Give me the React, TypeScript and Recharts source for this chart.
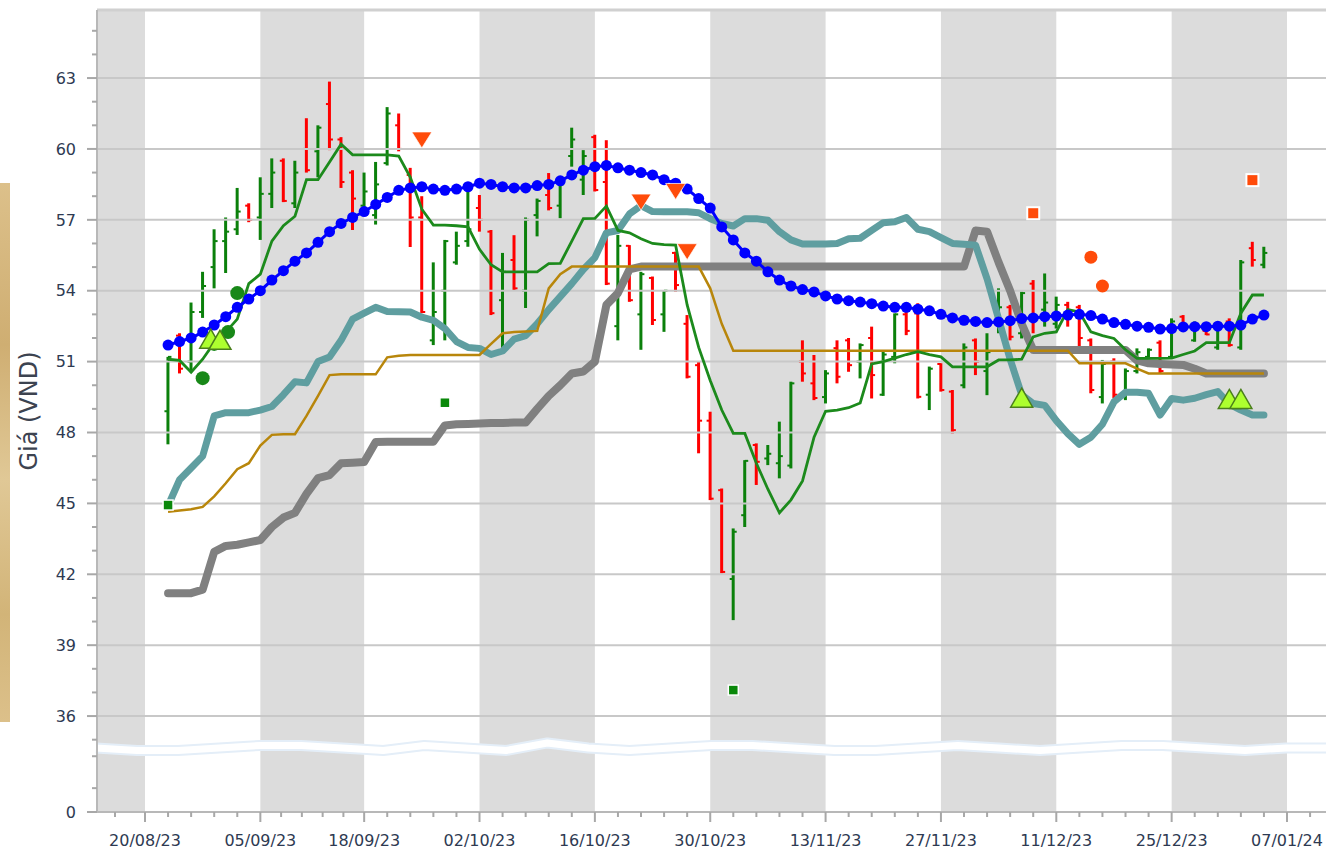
import React from 'react';
import {
  ComposedChart,
  XAxis,
  YAxis,
  Bar,
  Line,
  Scatter,
  ReferenceArea,
  ReferenceLine,
} from 'recharts';

// trading-day index of the first bar; 20/08/23 sits at index 0
const FIRST_DAY = 2;

const OPEN = [
  48.9, 52.1, 51.0, 53.1, 55.0, 56.1, 56.6, 57.6, 57.1, 58.1,
  59.5, 57.7, 60.0, 59.9, 61.9, 60.4, 59.0, 57.6, 57.2, 59.4,
  61.0, 58.9, 57.1, 51.9, 54.0, 55.2, 56.1, 57.5, 56.5, 53.6,
  55.3, 54.0, 57.2, 58.05, 57.6, 59.7, 58.7, 60.5, 58.6, 52.5,
  55.9, 53.0, 54.54, 53.0, 55.6, 52.6, 50.85, 48.5, 45.56, 41.8,
  44.5, 47.47, 46.9, 46.7, 46.6, 51.0, 50.08, 49.5, 51.57, 51.9,
  51.0, 52.0, 49.6, 51.2, 53.0, 53.04, 49.6, 50.9, 49.73, 50.0,
  51.9, 50.6, 52.6, 53.3, 52.2, 54.3, 53.2, 52.6, 53.4, 53.3,
  51.9, 49.5, 51.0, 49.5, 50.6, 51.2, 51.8, 51.2, 52.9, 51.9,
  52.3, 51.6, 52.7, 51.6, 55.8, 55.1,
];
const HIGH = [
  51.2, 52.2, 53.5, 54.8, 56.6, 57.1, 58.35, 57.7, 58.8, 59.6,
  59.6, 59.5, 61.3, 61.0, 62.85, 60.5, 59.1, 59.0, 59.45, 61.77,
  61.5, 59.2, 58.0, 55.2, 56.15, 56.5, 58.26, 58.05, 56.57, 55.6,
  56.35, 57.1, 57.9, 58.98, 58.6, 60.9, 59.95, 60.6, 60.37, 56.36,
  55.93, 54.8, 54.6, 54.03, 55.65, 52.97, 51.0, 48.88, 45.63, 43.94,
  46.83, 47.54, 47.47, 48.46, 50.15, 51.9, 51.28, 50.64, 51.9, 52.0,
  51.77, 52.48, 51.45, 53.04, 53.32, 53.47, 50.79, 50.93, 49.8, 51.77,
  51.98, 52.2, 54.1, 53.4, 53.96, 54.45, 54.73, 53.75, 53.53, 53.4,
  51.98, 51.07, 51.14, 50.71, 51.56, 51.56, 51.9, 52.83, 52.97, 52.7,
  52.33, 52.6, 52.83, 55.3, 56.07, 55.86,
];
const LOW = [
  47.5, 50.5, 50.55, 52.85, 54.1, 54.75, 56.36, 56.9, 56.15, 57.5,
  57.75, 57.5, 59.0, 58.8, 59.95, 58.35, 56.57, 57.4, 56.8, 59.3,
  59.9, 55.85, 53.05, 51.7, 51.9, 55.1, 55.86, 56.5, 52.97, 51.36,
  54.03, 53.27, 56.3, 57.4, 57.07, 59.25, 58.05, 58.2, 54.24, 51.9,
  53.53, 51.5, 52.55, 52.26, 53.96, 50.29, 47.12, 45.14, 42.04, 40.06,
  44.0, 45.78, 46.62, 46.06, 46.48, 50.15, 49.37, 49.23, 50.08, 50.57,
  50.29, 49.44, 49.55, 50.93, 52.12, 49.44, 48.95, 49.73, 47.96, 49.87,
  50.43, 49.58, 52.2, 51.9, 51.98, 52.2, 52.48, 52.4, 52.48, 51.6,
  49.66, 49.23, 49.45, 49.37, 50.5, 51.14, 50.5, 51.14, 52.33, 51.84,
  52.12, 51.5, 51.63, 51.5, 55.02, 54.95,
];
const CLOSE = [
  51.2, 50.7, 53.1, 54.2, 56.1, 56.5, 57.35, 57.0, 58.1, 59.0,
  57.8, 59.0, 59.1, 60.9, 60.4, 58.6, 57.9, 58.2, 58.5, 61.5,
  60.0, 57.1, 53.1, 53.1, 56.1, 55.9, 56.6, 57.0, 53.05, 54.8,
  54.1, 57.0, 57.8, 57.5, 58.5, 60.4, 59.7, 58.26, 54.3, 55.9,
  53.6, 54.7, 52.76, 54.0, 54.24, 50.36, 48.5, 45.2, 42.1, 43.8,
  46.8, 46.76, 47.1, 47.0, 50.08, 50.5, 49.46, 50.5, 50.36, 50.85,
  51.7, 50.43, 51.3, 53.0, 52.3, 49.51, 50.7, 49.8, 48.1, 51.6,
  51.0, 51.4, 53.3, 52.05, 53.9, 52.8, 53.5, 53.4, 52.8, 52.0,
  49.8, 50.9, 49.6, 50.6, 51.4, 51.5, 50.6, 52.7, 52.5, 52.5,
  52.15, 52.4, 51.7, 55.2, 55.3, 55.6,
];
// blue dotted moving average
const MA = [
  51.7, 51.85, 52.0, 52.25, 52.55, 52.9, 53.3, 53.65, 54.0, 54.45,
  54.85, 55.25, 55.6, 56.05, 56.5, 56.85, 57.1, 57.35, 57.65, 57.95,
  58.25, 58.35, 58.4, 58.3, 58.25, 58.3, 58.4, 58.55, 58.5, 58.4,
  58.35, 58.35, 58.45, 58.5, 58.65, 58.9, 59.1, 59.25, 59.3, 59.2,
  59.1, 59.0, 58.9, 58.7, 58.55, 58.3, 57.9, 57.5, 56.7, 56.15,
  55.6, 55.25, 54.8, 54.45, 54.2, 54.05, 53.95, 53.78, 53.65, 53.58,
  53.52, 53.45, 53.35, 53.3, 53.3, 53.22, 53.15, 53.0, 52.85, 52.75,
  52.7, 52.65, 52.68, 52.73, 52.82, 52.85, 52.9, 52.93, 52.97, 53.0,
  52.95, 52.8, 52.65, 52.58, 52.5, 52.45, 52.38, 52.4, 52.47, 52.48,
  52.48, 52.5, 52.5, 52.55, 52.8, 52.97,
];
// thin green line
const TENKAN = [
  51.1, 51.05, 50.55, 51.1, 51.8, 52.25, 52.8, 54.3, 54.7, 56.1,
  56.75, 57.15, 58.7, 58.7, 59.45, 60.2, 59.75, 59.75, 59.75, 59.75,
  59.7, 58.8, 57.45, 56.78, 56.78, 56.75, 56.7, 55.75, 55.1, 54.8,
  54.8, 54.8, 54.8, 55.15, 55.16, 56.1, 57.05, 57.06, 57.58, 56.55,
  56.45, 56.2, 56.0, 55.95, 55.93, 53.4, 51.6, 50.2, 48.95, 47.96,
  47.96, 46.7, 45.6, 44.6, 45.15, 45.95, 47.8, 48.9, 48.95, 49.05,
  49.25, 50.9, 51.0, 51.15, 51.3, 51.42, 51.3, 51.2, 50.78, 50.78,
  50.78, 50.78, 51.07, 51.07, 51.1, 52.05, 52.2, 52.26, 53.2, 53.1,
  52.26, 52.1, 51.98, 51.5, 51.14, 51.14, 51.14, 51.15, 51.3, 51.45,
  51.8, 51.8, 51.8, 53.05, 53.82, 53.82,
];
// thin gold line
const KIJUN = [
  44.65, 44.7, 44.75, 44.85, 45.3, 45.85, 46.45, 46.7, 47.45, 47.9,
  47.93, 47.93, 48.7, 49.55, 50.43, 50.46, 50.46, 50.46, 50.46, 51.18,
  51.25, 51.28, 51.28, 51.28, 51.28, 51.28, 51.28, 51.28, 51.75, 52.2,
  52.25, 52.27, 52.3, 54.1, 54.7, 55.02, 55.02, 55.02, 55.02, 55.02,
  55.02, 55.02, 55.02, 55.02, 55.02, 55.02, 55.02, 54.1, 52.6, 51.46,
  51.46, 51.46, 51.46, 51.46, 51.46, 51.46, 51.46, 51.46, 51.46, 51.46,
  51.46, 51.46, 51.46, 51.46, 51.46, 51.46, 51.46, 51.46, 51.46, 51.46,
  51.46, 51.46, 51.46, 51.46, 51.46, 51.46, 51.46, 51.46, 51.46, 50.93,
  50.93, 50.93, 50.93, 50.93, 50.7, 50.5, 50.5, 50.5, 50.5, 50.5,
  50.5, 50.5, 50.5, 50.5, 50.5, 50.5,
];
// thick teal line
const SPAN_A = [
  44.9, 46.0, 46.5, 47.0, 48.7, 48.84, 48.84, 48.84, 48.95, 49.1,
  49.6, 50.15, 50.1, 51.0, 51.2, 51.9, 52.8, 53.05, 53.3, 53.12,
  53.11, 53.1, 52.88, 52.75, 52.4, 51.85, 51.6, 51.56, 51.3, 51.45,
  51.95, 52.1, 52.6, 53.2, 53.75, 54.3, 54.9, 55.4, 56.45, 56.55,
  57.25, 57.6, 57.35, 57.34, 57.34, 57.34, 57.3, 57.05, 56.85, 56.74,
  57.05, 57.05, 56.98, 56.5, 56.15, 55.98, 55.98, 55.98, 56.0, 56.2,
  56.22, 56.55, 56.88, 56.92, 57.1, 56.6, 56.5, 56.25, 56.0, 55.97,
  55.93, 54.5, 52.8, 51.1, 49.6, 49.23, 49.15, 48.5, 47.95, 47.5,
  47.8, 48.35, 49.3, 49.7, 49.7, 49.66, 48.74, 49.44, 49.37, 49.45,
  49.6, 49.73, 49.2, 48.95, 48.74, 48.74,
];
// thick grey line
const SPAN_B = [
  41.2, 41.2, 41.2, 41.35, 42.95, 43.2, 43.25, 43.35, 43.45, 44.0,
  44.4, 44.6, 45.4, 46.07, 46.2, 46.7, 46.72, 46.75, 47.6, 47.61,
  47.61, 47.61, 47.61, 47.61, 48.3, 48.35, 48.36, 48.38, 48.4, 48.4,
  48.42, 48.42, 49.0, 49.55, 50.0, 50.5, 50.58, 51.0, 53.4, 53.9,
  54.9, 55.02, 55.02, 55.02, 55.02, 55.02, 55.02, 55.02, 55.02, 55.02,
  55.02, 55.02, 55.02, 55.02, 55.02, 55.02, 55.02, 55.02, 55.02, 55.02,
  55.02, 55.02, 55.02, 55.02, 55.02, 55.02, 55.02, 55.02, 55.02, 55.02,
  56.55, 56.5, 55.2, 54.0, 52.6, 51.49, 51.49, 51.49, 51.49, 51.49,
  51.49, 51.49, 51.49, 51.49, 51.05, 50.93, 50.9, 50.88, 50.86, 50.7,
  50.5, 50.5, 50.5, 50.5, 50.5, 50.5,
];

// signal markers
const SELL_TRI = [
  { i: 24, v: 60.38 },
  { i: 43, v: 57.75 },
  { i: 46, v: 58.2 },
  { i: 47, v: 55.65 },
];
const BUY_TRI = [
  { i: 5.7, v: 51.95 },
  { i: 6.5, v: 51.9 },
  { i: 76, v: 49.45 },
  { i: 94, v: 49.4 },
  { i: 95, v: 49.4 },
];
const GREEN_DOTS = [
  { i: 5, v: 50.3 },
  { i: 6, v: 51.75 },
  { i: 7.2, v: 52.25 },
  { i: 8, v: 53.9 },
];
const GREEN_SQ = [
  { i: 2, v: 44.93 },
  { i: 26, v: 49.26 },
  { i: 51, v: 37.1 },
];
const ORANGE_SQ = [
  { i: 77, v: 57.28 },
  { i: 96, v: 58.68 },
];
const ORANGE_DOTS = [
  { i: 82, v: 55.42 },
  { i: 83, v: 54.2 },
];

// axes
const X_MIN = -4.16;
const X_MAX = 102.38;
const X_MAJOR = [0, 10, 19, 29, 39, 49, 59, 69, 79, 89, 99];
const X_LABELS = [
  '20/08/23', '05/09/23', '18/09/23', '02/10/23', '16/10/23', '30/10/23',
  '13/11/23', '27/11/23', '11/12/23', '25/12/23', '07/01/24',
];
const Y_MIN = 31.94; // shown as 0 below the axis break
const Y_MAX = 65.88;
const Y_MAJOR = [36, 39, 42, 45, 48, 51, 54, 57, 60, 63];
const Y_MINOR = [32.95, 34.3, 35, 37, 38, 40, 41, 43, 44, 46, 47, 49, 50, 52, 53, 55, 56, 58, 59, 61, 62, 64, 65];
const SHADED = [[X_MIN, 0], [10, 19], [29, 39], [49, 59], [69, 79], [89, 99]];
const WAVE = [0, 1, 1, 0, -1, -1, 0, 1, -1, 0, 1, -2, 0, 1, 0, -1, -1, 0, 1, 1, 0, -1, 0, 1, 0, -1, -1, 0, 1, 0, 0];

const xMinor: number[] = [-2.6];
X_MAJOR.forEach((m, k) => {
  const next = X_MAJOR[k + 1];
  if (next === undefined) {
    xMinor.push(m + 2);
    return;
  }
  for (let s = 1; s < 5; s++) xMinor.push(m + ((next - m) * s) / 5);
});

const rows = OPEN.map((o, k) => ({
  i: FIRST_DAY + k,
  o,
  h: HIGH[k],
  l: LOW[k],
  c: CLOSE[k],
  ma: MA[k],
  tenkan: TENKAN[k],
  kijun: KIJUN[k],
  spanA: SPAN_A[k],
  spanB: SPAN_B[k],
}));

const FONT = '"DejaVu Sans", Verdana, sans-serif';
const TICK_COLOR = '#2e3a52';

function OhlcShape(props: any) {
  const { x, y, width, height, payload } = props;
  if (x == null || y == null || !payload) return null;
  const top = Math.min(y, y + height);
  const bottom = Math.max(y, y + height);
  const k = (bottom - top) / (payload.h - payload.l);
  const yo = top + (payload.h - payload.o) * k;
  const yc = top + (payload.h - payload.c) * k;
  const cx = x + width / 2;
  const color = payload.c >= payload.o ? '#0b800b' : '#ff0000';
  return (
    <g>
      <line x1={cx} x2={cx} y1={top} y2={bottom} stroke={color} strokeWidth={3} />
      <line x1={cx - 3.5} x2={cx} y1={yo} y2={yo} stroke={color} strokeWidth={2} />
      <line x1={cx} x2={cx + 3.5} y1={yc} y2={yc} stroke={color} strokeWidth={2} />
    </g>
  );
}

const DownTri = ({ cx, cy }: any) => (
  <path
    d={`M${cx - 10},${cy - 8} L${cx + 10},${cy - 8} L${cx},${cy + 8} Z`}
    fill='#ff4b0a'
    stroke='#ffffff'
    strokeOpacity={0.7}
    strokeWidth={1}
  />
);
const UpTri = ({ cx, cy }: any) => (
  <path
    d={`M${cx},${cy - 10} L${cx + 11},${cy + 9} L${cx - 11},${cy + 9} Z`}
    fill='#adff2f'
    stroke='#4a7f1c'
    strokeWidth={1.5}
  />
);
const GreenDot = ({ cx, cy }: any) => <circle cx={cx} cy={cy} r={7} fill='#188818' />;
const OrangeDot = ({ cx, cy }: any) => <circle cx={cx} cy={cy} r={6.5} fill='#ff4b0a' />;
const GreenSq = ({ cx, cy }: any) => (
  <rect x={cx - 5} y={cy - 5} width={10} height={10} fill='#0a880a' stroke='#ffffff' strokeWidth={1.5} />
);
const OrangeSq = ({ cx, cy }: any) => (
  <rect x={cx - 6} y={cy - 6} width={12} height={12} fill='#ff4b0a' stroke='#ffffff' strokeWidth={2} />
);

function XTick({ x, y, payload }: any) {
  const k = X_MAJOR.indexOf(payload.value);
  const major = k >= 0;
  return (
    <g>
      <line x1={x} x2={x} y1={y} y2={y + (major ? 10 : 5)} stroke='#a8a8a8' strokeWidth={2} />
      {major && (
        <text x={x} y={y + 34} textAnchor='middle' fontSize={16} fontFamily={FONT} fill={TICK_COLOR}>
          {X_LABELS[k]}
        </text>
      )}
    </g>
  );
}

function YTick({ x, y, payload }: any) {
  const v = payload.value;
  const major = Y_MAJOR.includes(v) || v === Y_MIN;
  return (
    <g>
      <line x1={x - (major ? 10 : 5)} x2={x} y1={y} y2={y} stroke='#a8a8a8' strokeWidth={2} />
      {major && (
        <text x={x - 21} y={y} dy='0.36em' textAnchor='end' fontSize={16} fontFamily={FONT} fill={TICK_COLOR}>
          {v === Y_MIN ? '0' : String(v)}
        </text>
      )}
    </g>
  );
}

function AxisTitle(props: any) {
  const vb = props.viewBox || {};
  const cx = vb.x - 8;
  const cy = vb.y + vb.height / 2;
  return (
    <text
      x={cx}
      y={cy}
      transform={`rotate(-90 ${cx} ${cy})`}
      textAnchor='middle'
      dominantBaseline='central'
      fontSize={24}
      fontFamily={FONT}
      fill='#3c4350'
    >
      Giá (VND)
    </text>
  );
}

function BreakShape({ x, y, width, height }: any) {
  const step = (width + 2) / (WAVE.length - 1);
  const mid = y + height / 2;
  const pts = WAVE.map((w, k) => `${x - 1 + k * step},${mid + w * 2.5}`).join(' ');
  return (
    <g>
      <polyline points={pts} fill='none' stroke='#e4eef8' strokeWidth={11} strokeLinejoin='round' />
      <polyline points={pts} fill='none' stroke='#ffffff' strokeWidth={7} strokeLinejoin='round' />
    </g>
  );
}

export default function App() {
  return (
    <div
      style={{
        position: 'absolute',
        left: 0,
        top: 0,
        width: 1326,
        height: 851,
        overflow: 'hidden',
        background: '#ffffff',
      }}
    >
      <div
        style={{
          position: 'absolute',
          left: 0,
          top: 183,
          width: 10,
          height: 539,
          background: 'linear-gradient(180deg, #dcc08a 0%, #cfae72 30%, #e0c896 55%, #d2b478 80%, #dcc08a 100%)',
        }}
      />
      <ComposedChart
        width={1326}
        height={851}
        data={rows}
        margin={{ top: 10, right: 0, bottom: 0, left: 37 }}
      >
        {SHADED.map(([a, b]) => (
          <ReferenceArea key={a} x1={a} x2={b} fill='#dcdcdc' fillOpacity={1} stroke='none' />
        ))}
        {Y_MAJOR.map((v) => (
          <ReferenceLine key={v} y={v} stroke='#c8c8c8' strokeWidth={2} />
        ))}
        <ReferenceLine y={Y_MAX} stroke='#d0d0d0' strokeWidth={3} />
        <XAxis
          type='number'
          dataKey='i'
          domain={[X_MIN, X_MAX]}
          allowDataOverflow
          ticks={[...X_MAJOR, ...xMinor].sort((a, b) => a - b)}
          interval={0}
          tickSize={0}
          tickMargin={0}
          tick={<XTick />}
          axisLine={{ stroke: '#b8b8b8', strokeWidth: 2 }}
          height={39}
        />
        <YAxis
          type='number'
          domain={[Y_MIN, Y_MAX]}
          allowDataOverflow
          ticks={[Y_MIN, ...Y_MINOR, ...Y_MAJOR].sort((a, b) => a - b)}
          interval={0}
          tickSize={0}
          tickMargin={0}
          tick={<YTick />}
          axisLine={{ stroke: '#b8b8b8', strokeWidth: 2 }}
          width={60}
          label={<AxisTitle />}
        />
        <ReferenceArea y1={34.5} y2={34.8} shape={<BreakShape />} />
        <Bar
          dataKey={(d: any) => [d.l, d.h]}
          barSize={3}
          shape={<OhlcShape />}
          isAnimationActive={false}
        />
        <Line
          dataKey='spanB'
          type='linear'
          stroke='#808080'
          strokeWidth={8}
          strokeLinejoin='round'
          strokeLinecap='round'
          dot={false}
          activeDot={false}
          isAnimationActive={false}
        />
        <Line
          dataKey='spanA'
          type='linear'
          stroke='#5f9ea0'
          strokeWidth={7}
          strokeLinejoin='round'
          strokeLinecap='round'
          dot={false}
          activeDot={false}
          isAnimationActive={false}
        />
        <Line
          dataKey='kijun'
          type='linear'
          stroke='#b8860b'
          strokeWidth={2.5}
          dot={false}
          activeDot={false}
          isAnimationActive={false}
        />
        <Line
          dataKey='tenkan'
          type='linear'
          stroke='#1c8a1c'
          strokeWidth={2.8}
          dot={false}
          activeDot={false}
          isAnimationActive={false}
        />
        <Line
          dataKey='ma'
          type='linear'
          stroke='#0000ff'
          strokeWidth={3}
          dot={{ r: 5.5, fill: '#0000ff', stroke: 'none' }}
          activeDot={false}
          isAnimationActive={false}
        />
        <Scatter data={GREEN_SQ} dataKey='v' shape={<GreenSq />} isAnimationActive={false} />
        <Scatter data={GREEN_DOTS} dataKey='v' shape={<GreenDot />} isAnimationActive={false} />
        <Scatter data={BUY_TRI} dataKey='v' shape={<UpTri />} isAnimationActive={false} />
        <Scatter data={SELL_TRI} dataKey='v' shape={<DownTri />} isAnimationActive={false} />
        <Scatter data={ORANGE_DOTS} dataKey='v' shape={<OrangeDot />} isAnimationActive={false} />
        <Scatter data={ORANGE_SQ} dataKey='v' shape={<OrangeSq />} isAnimationActive={false} />
      </ComposedChart>
    </div>
  );
}
